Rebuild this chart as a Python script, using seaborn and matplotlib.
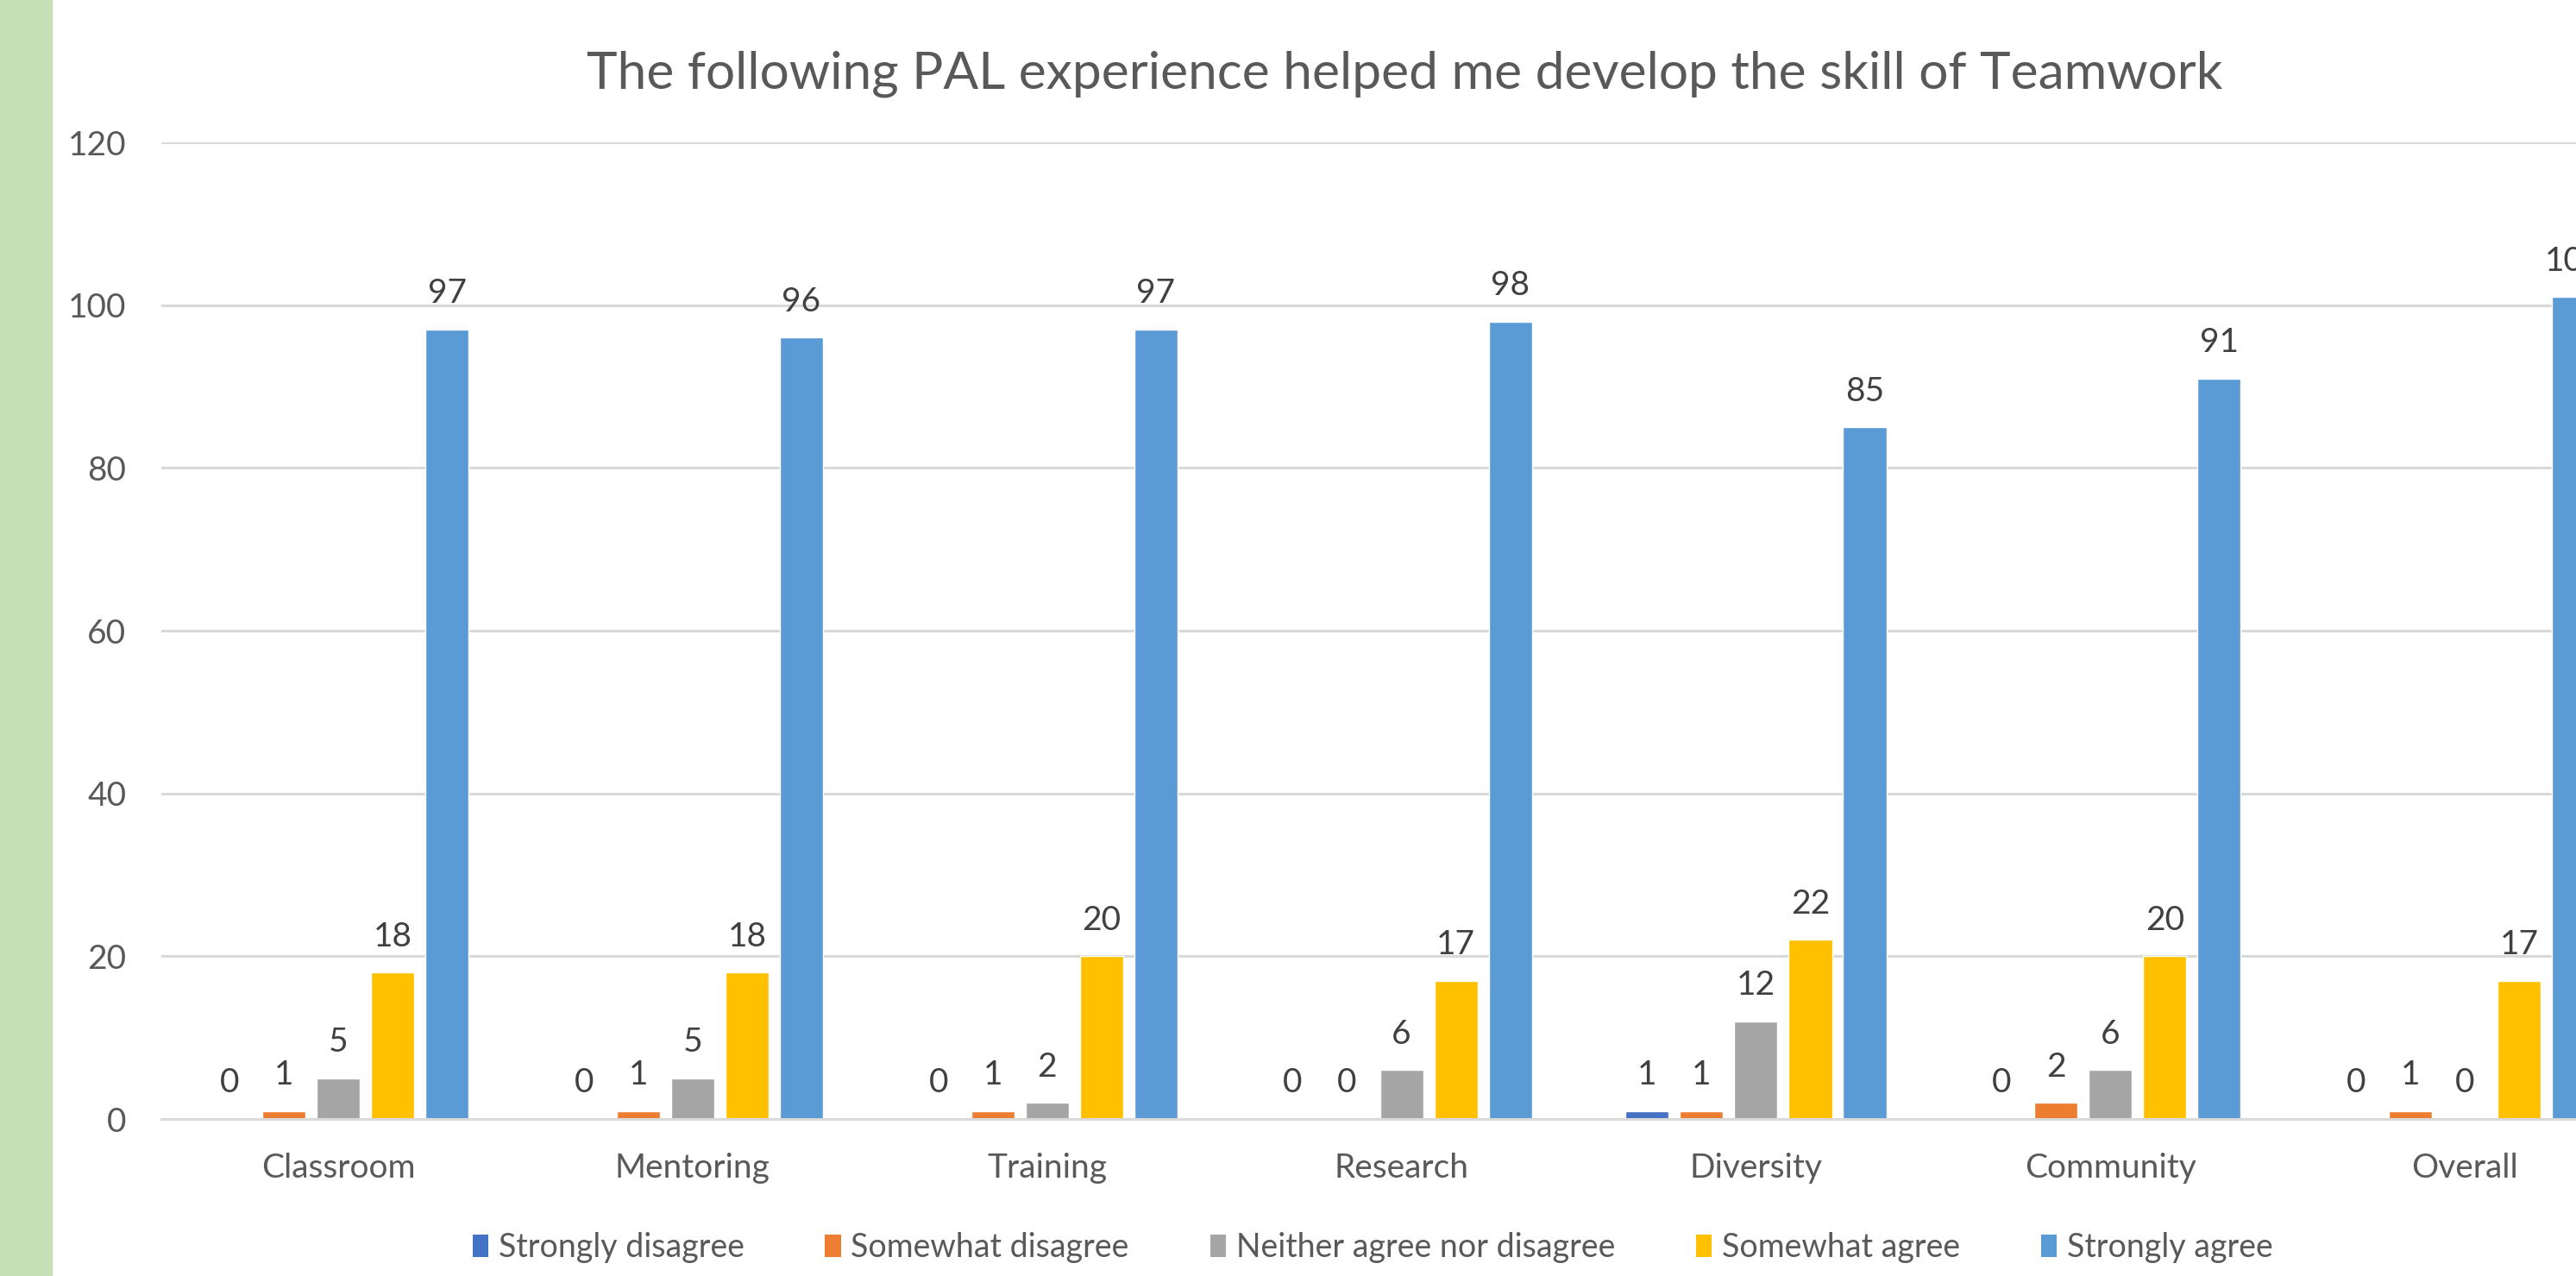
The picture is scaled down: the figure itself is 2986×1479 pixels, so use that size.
import matplotlib
matplotlib.use("Agg")
import matplotlib.pyplot as plt
from matplotlib.patches import Rectangle
import seaborn as sns
import pandas as pd

categories = ["Classroom", "Mentoring", "Training", "Research", "Diversity", "Community", "Overall"]
responses = ["Strongly disagree", "Somewhat disagree", "Neither agree nor disagree",
             "Somewhat agree", "Strongly agree"]
strongly_disagree = [0, 0, 0, 0, 1, 0, 0]
somewhat_disagree = [1, 1, 1, 0, 1, 2, 1]
neither = [5, 5, 2, 6, 12, 6, 0]
somewhat_agree = [18, 18, 20, 17, 22, 20, 17]
strongly_agree = [97, 96, 97, 98, 85, 91, 101]
colors = ["#4472C4", "#ED7D31", "#A5A5A5", "#FFC000", "#5B9BD5"]
title = "The following PAL experience helped me develop the skill of Teamwork"
yticks = [0, 20, 40, 60, 80, 100, 120]

series = [strongly_disagree, somewhat_disagree, neither, somewhat_agree, strongly_agree]
rows = []
for resp, vals in zip(responses, series):
    for cat, v in zip(categories, vals):
        rows.append({"Category": cat, "Response": resp, "Value": v})
df = pd.DataFrame(rows)

sns.set_theme(style="white")
plt.rcParams["font.family"] = ["Lato", "DejaVu Sans"]

W, H = 2986, 1479
fig = plt.figure(figsize=(W / 100, H / 100), dpi=100)
fig.patch.set_facecolor("white")
fig.patches.append(Rectangle((0, 0), 61 / W, 1, transform=fig.transFigure,
                             facecolor="#C5E0B4", edgecolor="none", zorder=0))

left = 186.6 / W
right = 3062.6 / W
bottom = (H - 1297) / H
top = (H - 165) / H
ax = fig.add_axes([left, bottom, right - left, top - bottom])

sns.barplot(data=df, x="Category", y="Value", hue="Response", order=categories,
            hue_order=responses, palette=colors, width=0.767, gap=0.206,
            saturation=1, ax=ax, legend=False, errorbar=None)

ax.set_xlim(-0.5, len(categories) - 0.5)
ax.set_ylim(0, 120)
ax.set_yticks(yticks)
ax.set_xlabel("")
ax.set_ylabel("")
ax.yaxis.grid(True, color="#D9D9D9", linewidth=2.2)
ax.set_axisbelow(True)
for s in ["left", "right", "top"]:
    ax.spines[s].set_visible(False)
ax.spines["bottom"].set_color("#D9D9D9")
ax.spines["bottom"].set_linewidth(2.2)
ax.tick_params(axis="y", length=0, pad=29, labelsize=28, labelcolor="#595959")
ax.tick_params(axis="x", length=0, pad=28, labelsize=28, labelcolor="#595959")

for cont in ax.containers:
    ax.bar_label(cont, fmt="%d", padding=17, fontsize=28, color="#404040", clip_on=False)

fig.text(1628 / W, 1 - 86 / H, title, ha="center", va="center", fontsize=43.5, color="#595959")

handles = [Rectangle((0, 0), 1, 1, facecolor=c, edgecolor="none") for c in colors]
fig.legend(handles, responses, loc="center", bbox_to_anchor=(1591 / W, 1 - 1446 / H),
           ncol=5, frameon=False, fontsize=27, labelcolor="#595959",
           handlelength=0.5, handleheight=0.7, handletextpad=0.3, columnspacing=2.5)

fig.savefig("out.png", dpi=100)
